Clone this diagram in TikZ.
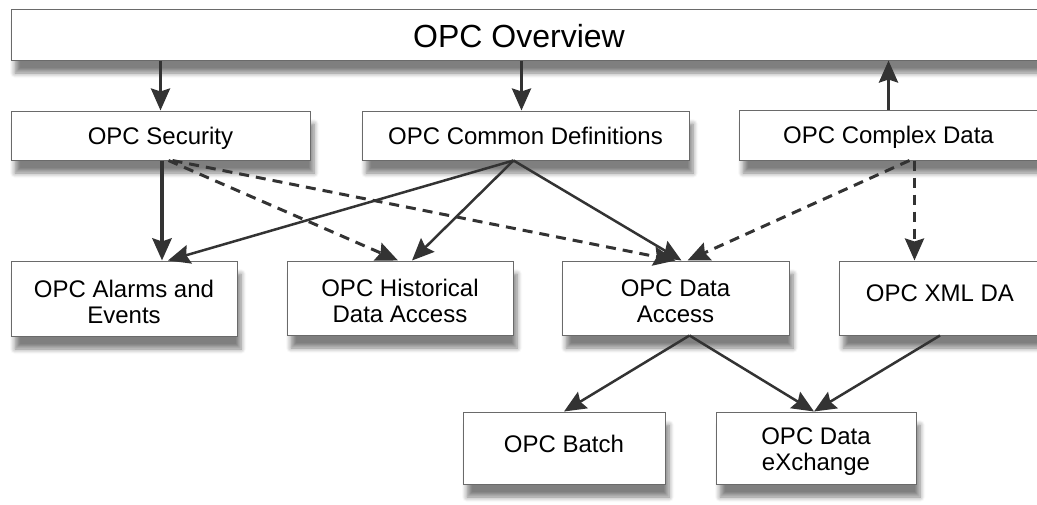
\documentclass[tikz,border=0pt]{standalone}
\usepackage{fontspec}
\setmainfont{Liberation Sans}
\usetikzlibrary{arrows.meta,shadows.blur}
\definecolor{ln}{HTML}{333333}
\definecolor{bd}{HTML}{6A6A6A}
\newcommand\tpstrut{\rule{0pt}{23.5pt}}
\begin{document}
\begin{tikzpicture}[x=1pt,y=-1pt,
  box/.style={draw=bd, line width=1pt, fill=white, inner sep=0pt, align=center,
    font=\fontsize{24}{26}\selectfont,
    blur shadow={shadow xshift=4pt, shadow yshift=-13pt, shadow blur radius=5pt, shadow blur steps=6, shadow opacity=50}},
  conn/.style={draw=ln, line width=2.5pt, -{Stealth[length=22pt,width=19pt,inset=3pt]}},
  thk/.style={conn, line width=3.5pt},
  dsh/.style={conn, line width=3pt, dash pattern=on 10pt off 7pt}]
\useasboundingbox (0,0) rectangle (1037,504);
% boxes
\node[box, minimum width=1034pt, minimum height=51pt] (ov) at (528,34.5) {};
\node[font=\fontsize{32}{36}\selectfont, inner sep=0pt] (ovt) at (519,36) {OPC Overview};
\node[box, minimum width=299pt, minimum height=49pt, text depth=0pt] (sec) at (160.5,135.5) {OPC Security};
\node[box, minimum width=327pt, minimum height=49pt, text depth=0pt] (com) at (525.5,135.5) {OPC Common Definitions};
\node[box, minimum width=299pt, minimum height=50pt, text depth=0pt] (cpx) at (888.5,135) {OPC Complex Data};
\node[box, minimum width=226pt, minimum height=75pt] (al) at (124,298.5) {\tpstrut OPC Alarms and\\Events};
\node[box, minimum width=226pt, minimum height=74pt] (hist) at (400,298) {\tpstrut OPC Historical\\Data Access};
\node[box, minimum width=227pt, minimum height=74pt] (da) at (675.5,298) {\tpstrut OPC Data\\Access};
\node[box, minimum width=202pt, minimum height=74pt, text depth=10pt] (xml) at (940,298) {OPC XML DA};
\node[box, minimum width=202pt, minimum height=72pt, text depth=9pt] (bat) at (564,448) {OPC Batch};
\node[box, minimum width=200pt, minimum height=72pt] (dx) at (816,448) {\tpstrut OPC Data\\eXchange};
% connectors
\draw[thk] (sec.north |- ov.south) -- (sec.north);
\draw[thk] ([xshift=-4pt]com.north |- ov.south) -- ([xshift=-4pt]com.north);
\draw[thk] (cpx.north) -- (cpx.north |- ov.south);
\draw[conn, line width=4.5pt] ([xshift=1.5pt]sec.south) -- ([xshift=1.5pt]sec.south |- al.north);
\draw[dsh] ([xshift=8pt]sec.south) -- ([xshift=-2pt]hist.north);
\draw[dsh] ([xshift=12pt]sec.south) -- ([xshift=0pt]da.north);
\draw[conn] ([xshift=-12pt]com.south) -- ([xshift=44pt]al.north);
\draw[conn] ([xshift=-12pt]com.south) -- ([xshift=12pt]hist.north);
\draw[conn] ([xshift=-12pt]com.south) -- ([xshift=6pt]da.north);
\draw[dsh] ([xshift=21pt]cpx.south) -- ([xshift=12pt]da.north);
\draw[dsh, line width=3.5pt] ([xshift=26pt]cpx.south) -- ([xshift=26pt]cpx.south |- xml.north);
\draw[conn] ([xshift=14pt]da.south) -- (bat.north);
\draw[conn] ([xshift=14pt]da.south) -- ([xshift=-2pt]dx.north);
\draw[conn] (xml.south) -- ([xshift=-2pt]dx.north);
\end{tikzpicture}
\end{document}
